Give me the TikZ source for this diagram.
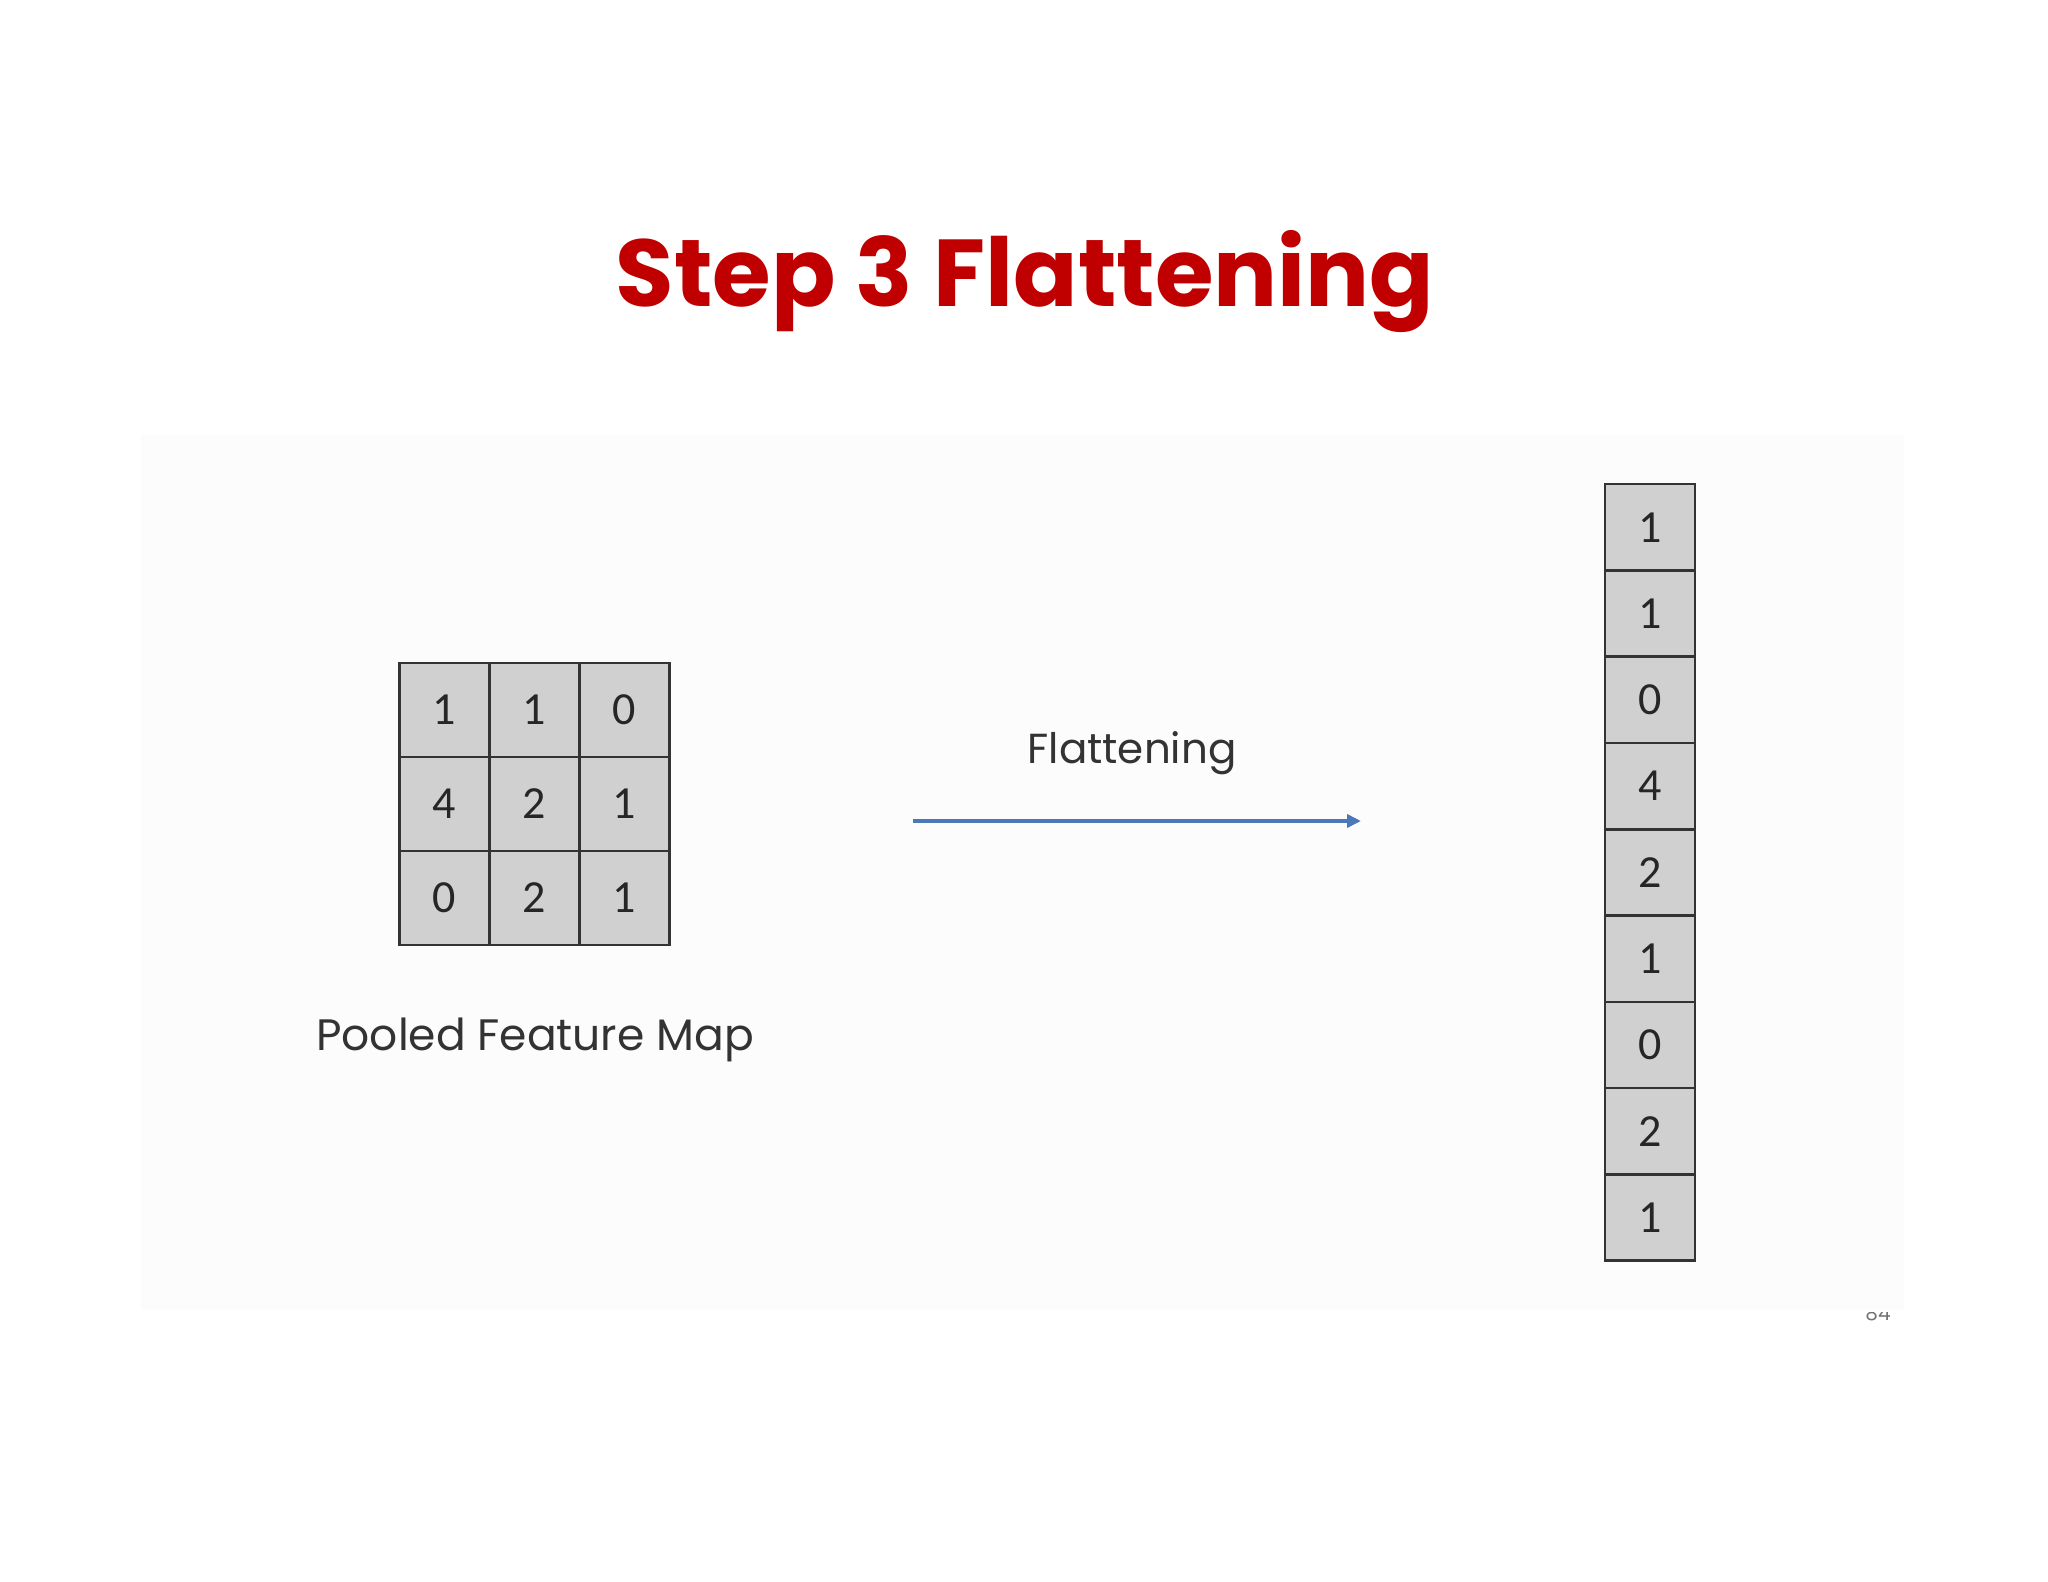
\documentclass[tikz,border=0pt]{standalone}
\usepackage{fontspec}
\setmainfont{Carlito}
\newfontfamily\titlefont{Poppins}
\newfontfamily\labelfont{Poppins}
\usetikzlibrary{arrows.meta}
\definecolor{titlered}{HTML}{C00000}
\definecolor{cellgray}{HTML}{D0D0D0}
\definecolor{celledge}{HTML}{333333}
\definecolor{arrowblue}{HTML}{4A78B8}
\definecolor{panel}{HTML}{FCFCFD}
\tikzset{
  cell/.style={draw=celledge, fill=cellgray, line width=2.6pt, minimum width=90pt, inner sep=0pt, outer sep=0pt,
    font=\fontsize{46}{50}\selectfont, text=black!85},
  gcell/.style={cell, minimum height=94pt},
  vcell/.style={cell, minimum height=86.3pt},
  lbl/.style={font=\labelfont\fontsize{42}{48}\selectfont, text=black!80, inner sep=0pt}
}
\begin{document}
\begin{tikzpicture}[x=1pt,y=-1pt]
\useasboundingbox (0,0) rectangle (2048,1582);
\fill[white] (0,0) rectangle (2048,1582);
\fill[panel] (141,435) rectangle (1904,1310);
\node[font=\titlefont\bfseries\fontsize{95}{100}\selectfont, text=titlered, inner sep=0pt] (title) at (1025,282) {Step 3 Flattening};
% pooled map
\foreach \v [count=\i from 0] in {1,1,0,4,2,1,0,2,1}{
  \pgfmathtruncatemacro{\r}{div(\i,3)}
  \pgfmathtruncatemacro{\c}{mod(\i,3)}
  \node[gcell] (g\i) at (444.5+\c*90, 710+\r*94) {\v};
}
\node[lbl, font=\labelfont\fontsize{44}{48}\selectfont] (pooled) at (535,1040) {Pooled Feature Map};
% column
\foreach \v [count=\i from 0] in {1,1,0,4,2,1,0,2,1}{
  \node[vcell] (c\i) at (1650, 527.2+\i*86.3) {\v};
}
\node[lbl] (flat) at (1132,753) {Flattening};
\coordinate (a1) at (913,821);
\coordinate (a2) at (1361,821);
\draw[arrowblue, line width=4pt, -{Triangle[length=14pt,width=13pt]}] (a1) -- (a2);
\begin{scope}
\clip (1850,1312) rectangle (1900,1340);
\node[font=\labelfont\fontsize{20}{22}\selectfont, text=black!55] (pg) at (1878,1313) {84};
\end{scope}
\end{tikzpicture}
\end{document}
